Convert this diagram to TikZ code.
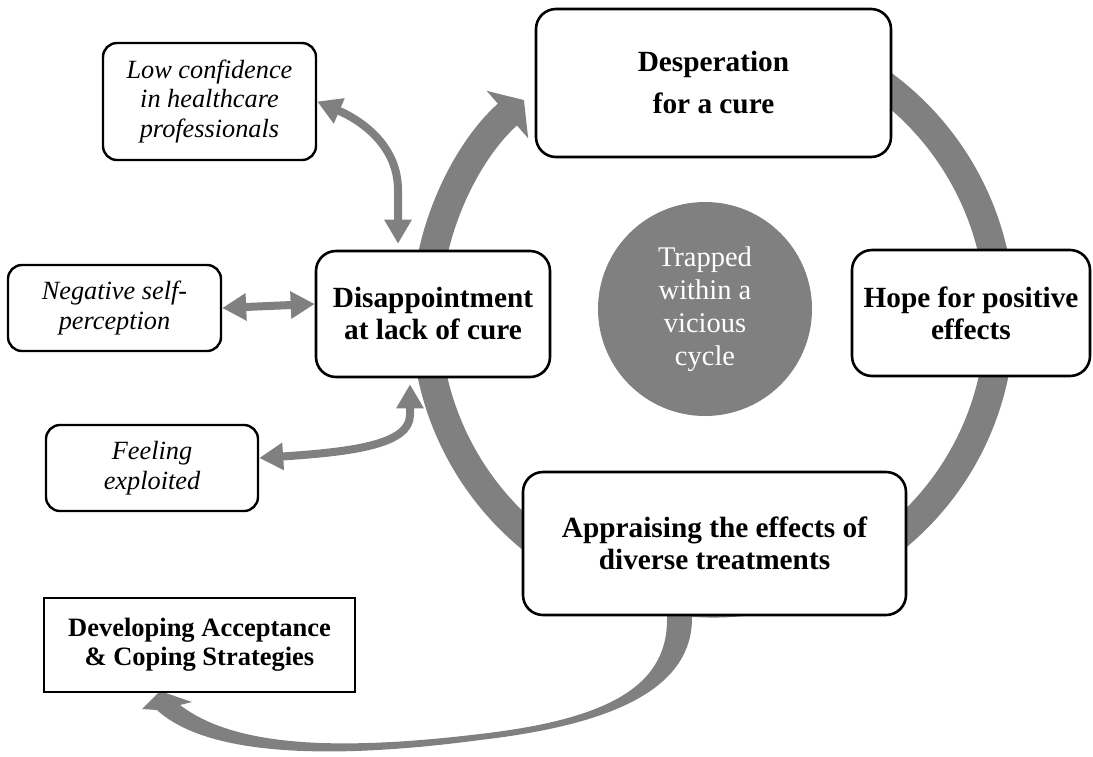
\documentclass[tikz,border=0pt]{standalone}
\usepackage{fontspec}
\setmainfont{Liberation Serif}
\usetikzlibrary{arrows.meta,calc}

\tikzset{
  stage/.style={draw, line width=1.3pt, rounded corners=10pt, fill=white, align=center, inner sep=0pt,
    font=\fontsize{14.65}{16}\selectfont\bfseries},
  side/.style={draw, line width=1.2pt, rounded corners=7pt, fill=white, align=center, inner sep=0pt,
    font=\fontsize{13.15}{14.7}\selectfont\itshape},
  link/.style={draw=gray, line width=4pt, {Triangle[length=12pt,width=13pt]}-{Triangle[length=12pt,width=13pt]}},
}

\begin{document}
\begin{tikzpicture}[x=0.5pt,y=-0.5pt]
	\useasboundingbox (0,0) rectangle (1093,756);
	
	% the cycle
	\coordinate (ringc) at (713,316);
	\draw[gray, line width=14.5pt, -{Triangle[length=11pt,width=31pt]}]
		([shift={(-80:287)}]ringc) arc[start angle=-80, end angle=228.8, radius=287];
	
	% way out of the cycle
	\fill[gray] (692,600) -- (692,618) .. controls (692,690) and (610,725) .. (480,740)
		.. controls (330,760) and (207,756) .. (157,710) -- (142,709) -- (160,691) -- (192,702) -- (180,705)
		.. controls (232,745) and (330,752) .. (480,734) .. controls (600,720) and (667,690) .. (667,620)
		-- (667,600) -- cycle;
	
	\node[stage, minimum width=177.5pt, minimum height=74pt] (desp) at (713.5,83) {Desperation\\[5pt]for a cure};
	\node[stage, minimum width=119pt, minimum height=63pt] (hope) at (971,313) {Hope for positive\\effects};
	\node[stage, minimum width=191.5pt, minimum height=71.5pt] (appr) at (714.5,543.5) {Appraising the effects of\\diverse treatments};
	\node[stage, minimum width=117pt, minimum height=63pt] (disap) at (433,314) {Disappointment\\at lack of cure};
	
	\node[circle, fill=gray, minimum size=107pt, inner sep=0pt, align=center, text=white,
		font=\fontsize{14.25}{16.5}\selectfont] (trap) at (705,309) {Trapped\\within a\\vicious\\cycle};
	
	\node[side, minimum width=106.5pt, minimum height=58.5pt] (lowconf) at (209.5,101.5) {Low confidence\\in healthcare\\professionals};
	\node[side, minimum width=106.5pt, minimum height=43pt] (negself) at (114.5,308) {Negative self-\\perception};
	\node[side, minimum width=106pt, minimum height=43pt] (exploit) at (152,468) {Feeling\\exploited};
	
	\node[draw, line width=1.3pt, fill=white, minimum width=155.5pt, minimum height=47pt, inner sep=0pt, align=center,
		font=\fontsize{13.25}{14.5}\selectfont\bfseries] (accept) at (199.5,645) {Developing Acceptance\\\& Coping Strategies};
	
	\draw[link] (lowconf.east) .. controls (365,122) and (398,148) .. (398,190) -- ($(disap.north)+(-35,-6)$);
	\draw[link] (negself.east) -- ($(disap.west)+(0,-10)$);
	\draw[link] ($(exploit.east)+(0,-10)$) .. controls (350,452) and (410,445) .. (410,415) -- ($(disap.south)+(-23,6)$);
\end{tikzpicture}
\end{document}
